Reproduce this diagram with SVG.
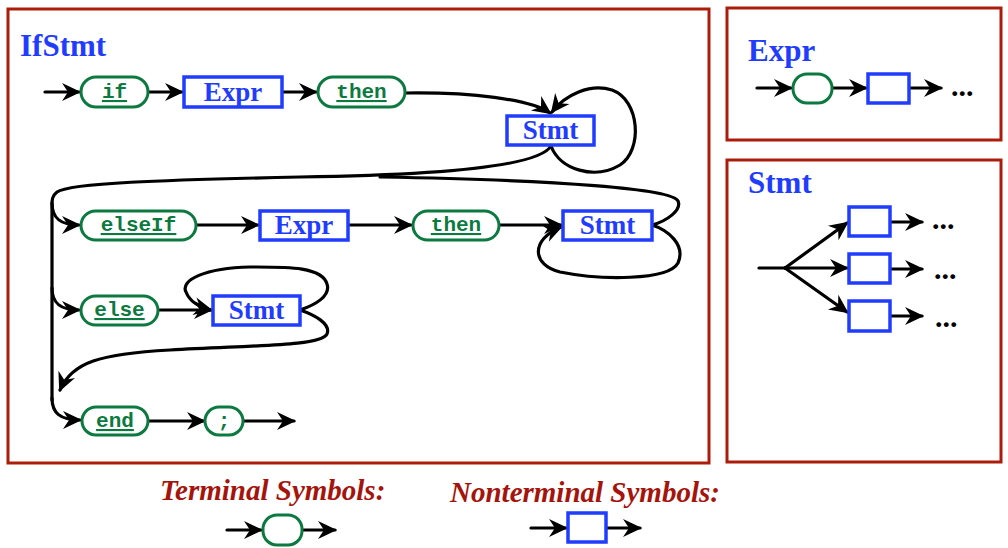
<svg xmlns="http://www.w3.org/2000/svg" width="1008" height="548" viewBox="0 0 1008 548">
  <defs>
    <marker id="arr" markerUnits="userSpaceOnUse" markerWidth="26" markerHeight="22" viewBox="-20 -11 26 22" refX="0" refY="0" orient="auto">
      <path d="M2,0 L-17,-9 L-11,0 L-17,9 Z" fill="#000"/>
    </marker>
    <style>
      .frame { fill: #fff; stroke: #ac1c0a; stroke-width: 3; }
      .title { font-family: "Liberation Serif", serif; font-weight: bold; font-size: 31px; fill: #1f3cff; }
      .term { fill: #fff; stroke: #0c7a40; stroke-width: 3; }
      .nonterm { fill: #fff; stroke: #1f3cff; stroke-width: 3.5; }
      .tt { font-family: "Liberation Mono", monospace; font-weight: bold; font-size: 21px; fill: #0c7a40; text-anchor: middle; text-decoration: underline; }
      .nt { font-family: "Liberation Serif", serif; font-weight: bold; font-size: 27px; fill: #1f3cff; text-anchor: middle; }
      .wire { fill: none; stroke: #000; stroke-width: 3.2; stroke-linecap: round; }
      .arrow { marker-end: url(#arr); }
      .dots { font-family: "Liberation Serif", serif; font-weight: bold; font-size: 30px; fill: #000; }
      .legend { font-family: "Liberation Serif", serif; font-weight: bold; font-style: italic; font-size: 29px; fill: #a5140c; }
    </style>
  </defs>

  <rect width="1008" height="548" fill="#fff"/>

  <!-- frames -->
  <g id="frames">
    <rect class="frame" x="8" y="9" width="701" height="454"/>
    <rect class="frame" x="727" y="8" width="274" height="132"/>
    <rect class="frame" x="727" y="160" width="274" height="302"/>
    <text class="title" x="20" y="56">IfStmt</text>
    <text class="title" x="748" y="61">Expr</text>
    <text class="title" x="748" y="193">Stmt</text>
  </g>

  <!-- connectors -->
  <g id="connectors">
    <!-- row 1 -->
    <path class="wire arrow" d="M45,92 L79,92"/>
    <path class="wire arrow" d="M148,92 L182,92"/>
    <path class="wire arrow" d="M282,92 L316,92"/>
    <path class="wire arrow" d="M405,93 C470,92 530,99 550,113"/>
    <!-- Stmt self-loop -->
    <path class="wire arrow" d="M551,146 C560,170 595,180 620,165 C643,150 640,100 612,90 C590,83 565,95 552,112"/>
    <!-- Stmt exit to trunk -->
    <path class="wire" d="M551,146 C540,165 450,175 300,177 C160,180 70,183 57,192 C52,196 52,200 52,205 L52,400"/>
    <!-- elseIf Stmt exit back to trunk -->
    <path class="wire" d="M652,225 C667,221 682,210 678,201 C673,189 560,180 380,177"/>
    <!-- trunk branches -->
    <path class="wire arrow" d="M52,203 C52,218 60,225 79,225"/>
    <path class="wire arrow" d="M52,288 C52,303 60,310 79,310"/>
    <path class="wire arrow" d="M52,398 C52,413 60,420 80,420"/>
    <!-- row 2 -->
    <path class="wire arrow" d="M196,225 L258,225"/>
    <path class="wire arrow" d="M348,225 L411,225"/>
    <path class="wire arrow" d="M499,225 L561,225"/>
    <path class="wire arrow" d="M652,225 C668,230 686,245 678,263 C668,281 600,280 560,272 C532,265 530,240 561,227"/>
    <!-- row 3 -->
    <path class="wire arrow" d="M158,310 L211,310"/>
    <path class="wire arrow" d="M300,310 C315,305 331,296 327,284 C322,266 285,267 250,267 C205,268 180,280 186,292 C190,302 198,307 211,310"/>
    <path class="wire arrow" d="M300,310 C315,315 331,324 327,334 C321,346 260,345 170,350 C100,354 72,362 60,390"/>
    <!-- row 4 -->
    <path class="wire arrow" d="M148,421 L204,421"/>
    <path class="wire arrow" d="M243,421 L294,421"/>

    <!-- Expr panel -->
    <path class="wire arrow" d="M757,88 L791,88"/>
    <path class="wire arrow" d="M832,88 L866,88"/>
    <path class="wire arrow" d="M909,88 L941,88"/>

    <!-- Stmt panel -->
    <path class="wire" d="M759,268 L785,268"/>
    <path class="wire arrow" d="M785,268 L847,223"/>
    <path class="wire arrow" d="M785,268 L847,268"/>
    <path class="wire arrow" d="M785,268 L847,312"/>
    <path class="wire arrow" d="M890,222 L922,222"/>
    <path class="wire arrow" d="M890,269 L922,269"/>
    <path class="wire arrow" d="M890,316 L922,316"/>

    <!-- legend -->
    <path class="wire arrow" d="M227,530 L261,530"/>
    <path class="wire arrow" d="M302,530 L335,530"/>
    <path class="wire arrow" d="M531,528 L566,528"/>
    <path class="wire arrow" d="M606,528 L640,528"/>
  </g>

  <!-- IfStmt nodes -->
  <g id="n-if"><rect class="term" x="81" y="77" width="67" height="30" rx="15"/><text class="tt" x="114.5" y="98">if</text></g>
  <g id="n-expr1"><rect class="nonterm" x="184" y="77" width="98" height="30"/><text class="nt" x="233" y="101">Expr</text></g>
  <g id="n-then1"><rect class="term" x="318" y="77" width="87" height="30" rx="15"/><text class="tt" x="361.5" y="98">then</text></g>
  <g id="n-stmt1"><rect class="nonterm" x="507" y="116" width="87" height="29"/><text class="nt" x="550.5" y="139">Stmt</text></g>

  <g id="n-elseif"><rect class="term" x="81" y="211" width="115" height="29" rx="14.5"/><text class="tt" x="138.5" y="231">elseIf</text></g>
  <g id="n-expr2"><rect class="nonterm" x="260" y="211" width="88" height="29"/><text class="nt" x="304" y="234">Expr</text></g>
  <g id="n-then2"><rect class="term" x="413" y="211" width="86" height="29" rx="14.5"/><text class="tt" x="456" y="231">then</text></g>
  <g id="n-stmt2"><rect class="nonterm" x="563" y="211" width="89" height="29"/><text class="nt" x="607.5" y="234">Stmt</text></g>

  <g id="n-else"><rect class="term" x="81" y="296" width="77" height="29" rx="14.5"/><text class="tt" x="119.5" y="316">else</text></g>
  <g id="n-stmt3"><rect class="nonterm" x="213" y="296" width="87" height="29"/><text class="nt" x="256.5" y="319">Stmt</text></g>

  <g id="n-end"><rect class="term" x="82" y="407" width="66" height="28" rx="14"/><text class="tt" x="115" y="427">end</text></g>
  <g id="n-semi"><rect class="term" x="205" y="407" width="38" height="28" rx="14"/><text class="tt" x="224" y="427" style="text-decoration:none">;</text></g>

  <!-- Expr panel nodes -->
  <g id="e-term"><rect class="term" x="793" y="74" width="39" height="29" rx="14"/></g>
  <g id="e-nonterm"><rect class="nonterm" x="868" y="74" width="41" height="29"/></g>
  <text class="dots" x="951" y="96">...</text>

  <!-- Stmt panel nodes -->
  <g id="s-alt1"><rect class="nonterm" x="849" y="207" width="41" height="29"/></g>
  <g id="s-alt2"><rect class="nonterm" x="849" y="254" width="41" height="29"/></g>
  <g id="s-alt3"><rect class="nonterm" x="849" y="301" width="41" height="30"/></g>
  <text class="dots" x="932" y="229">...</text>
  <text class="dots" x="934" y="279">...</text>
  <text class="dots" x="935" y="327">...</text>

  <!-- legend -->
  <g id="legend">
    <text class="legend" x="160" y="500">Terminal Symbols:</text>
    <text class="legend" x="450" y="502">Nonterminal Symbols:</text>
    <rect class="term" x="263" y="515" width="39" height="30" rx="14"/>
    <rect class="nonterm" x="568" y="513" width="38" height="29"/>
  </g>
</svg>
